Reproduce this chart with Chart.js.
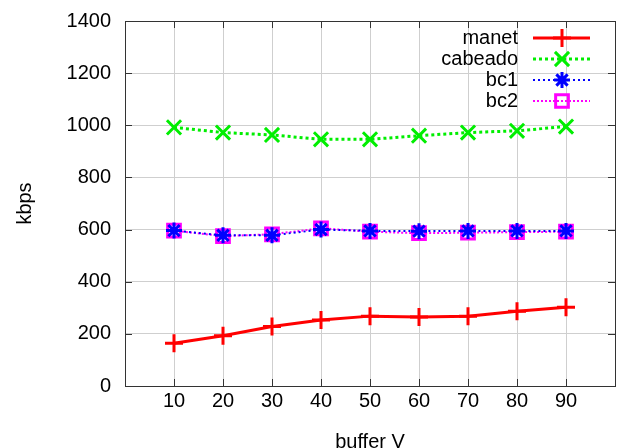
<!DOCTYPE html>
<html>
<head>
<meta charset="utf-8">
<script src="https://cdn.jsdelivr.net/npm/chart.js@4/dist/chart.umd.min.js"></script>
<style>
  html, body { margin: 0; padding: 0; background: #fff; }
  #wrap { width: 619px; height: 448px; }
</style>
</head>
<body>
<div id="wrap"><canvas id="chart" width="619" height="448"></canvas></div>
<script>
const bufferV = [10, 20, 30, 40, 50, 60, 70, 80, 90];
const manet   = [164, 193, 228, 253, 268, 265, 268, 287, 302];
const cabeado = [992, 972, 963, 946, 946, 960, 972, 979, 995];
const bc1     = [596, 578, 578, 600, 595, 594, 595, 595, 595];
const bc2     = [596, 575, 582, 605, 592, 586, 588, 590, 592];
const yTicks  = [0, 200, 400, 600, 800, 1000, 1200, 1400];

const FONT = "'Liberation Sans', Arial, Helvetica, sans-serif";

function pts(vals) {
    return vals.map((v, i) => ({ x: bufferV[i], y: v }));
}

// frame round the plot plus small inward ticks (gnuplot style)
const framePlugin = {
    id: "frame",
    beforeDatasetsDraw(chart) {
        const { ctx, chartArea: a, scales } = chart;
        ctx.save();
        ctx.strokeStyle = "#333";
        ctx.lineWidth = 1;
        ctx.beginPath();
        yTicks.forEach(v => {
            const y = Math.round(scales.y.getPixelForValue(v)) + 0.5;
            ctx.moveTo(a.left, y); ctx.lineTo(a.left + 7, y);
            ctx.moveTo(a.right, y); ctx.lineTo(a.right - 7, y);
        });
        bufferV.forEach(v => {
            const x = Math.round(scales.x.getPixelForValue(v)) + 0.5;
            ctx.moveTo(x, a.bottom); ctx.lineTo(x, a.bottom - 7);
            ctx.moveTo(x, a.top); ctx.lineTo(x, a.top + 7);
        });
        ctx.stroke();
        ctx.strokeRect(Math.round(a.left) + 0.5, Math.round(a.top) + 0.5,
            Math.round(a.right - a.left), Math.round(a.bottom - a.top));
        ctx.restore();
    }
};

// legend inside top right: label, then line sample with marker
const keyPlugin = {
    id: "key",
    afterDraw(chart) {
        const { ctx, chartArea: a } = chart;
        ctx.save();
        ctx.font = "20px " + FONT;
        ctx.textAlign = "right";
        ctx.textBaseline = "middle";
        chart.data.datasets.forEach((ds, i) => {
            const y = a.top + 17 + i * 21;
            ctx.fillStyle = "#000";
            ctx.fillText(ds.label, a.right - 97, y);
            ctx.strokeStyle = ds.borderColor;
            ctx.lineWidth = ds.borderWidth;
            ctx.setLineDash(ds.borderDash || []);
            ctx.beginPath();
            ctx.moveTo(a.right - 82, y);
            ctx.lineTo(a.right - 25, y);
            ctx.stroke();
            ctx.setLineDash([]);
            ctx.lineWidth = ds.pointBorderWidth;
            ctx.strokeStyle = ds.pointBorderColor;
            ctx.fillStyle = "rgba(0,0,0,0)";
            Chart.helpers.drawPoint(ctx, {
                pointStyle: ds.pointStyle, radius: ds.pointRadius,
                rotation: 0, borderWidth: ds.pointBorderWidth
            }, a.right - 53, y);
        });
        ctx.restore();
    }
};

new Chart(document.getElementById("chart"), {
    type: "line",
    data: {
        datasets: [
            { label: "manet", data: pts(manet), borderColor: "#ff0000", borderWidth: 3,
              pointStyle: "cross", pointRadius: 9, pointBorderWidth: 3,
              pointBorderColor: "#ff0000", pointBackgroundColor: "transparent" },
            { label: "cabeado", data: pts(cabeado), borderColor: "#00ee00", borderWidth: 3,
              borderDash: [3, 3], pointStyle: "crossRot", pointRadius: 10, pointBorderWidth: 3,
              pointBorderColor: "#00ee00", pointBackgroundColor: "transparent" },
            { label: "bc1", data: pts(bc1), borderColor: "#0000ff", borderWidth: 2,
              borderDash: [2, 3], pointStyle: "star", pointRadius: 8, pointBorderWidth: 3,
              pointBorderColor: "#0000ff", pointBackgroundColor: "transparent" },
            { label: "bc2", data: pts(bc2), borderColor: "#ff00ff", borderWidth: 2,
              borderDash: [2, 2], pointStyle: "rect", pointRadius: 9, pointBorderWidth: 3,
              pointBorderColor: "#ff00ff", pointBackgroundColor: "transparent" }
        ]
    },
    options: {
        responsive: false,
        animation: false,
        layout: { autoPadding: false, padding: { top: 21, right: 4, left: 0, bottom: 0 } },
        plugins: { legend: { display: false }, tooltip: { enabled: false } },
        scales: {
            x: {
                type: "linear", min: 0, max: 100,
                afterFit: s => { s.height = 62; s.paddingLeft = 0; s.paddingRight = 0; },
                border: { display: false },
                grid: {
                    drawTicks: false,
                    color: c => (c.tick.value === 0 || c.tick.value === 100) ? "transparent" : "#cfcfcf"
                },
                ticks: {
                    stepSize: 10, padding: 3, color: "#000",
                    font: { family: FONT, size: 20 },
                    callback: v => (v === 0 || v === 100) ? "" : String(v)
                },
                title: { display: true, text: "buffer V", color: "#000",
                         font: { family: FONT, size: 20 }, padding: { top: 0, bottom: -6 } }
            },
            y: {
                min: 0, max: 1400,
                afterFit: s => { s.width = 125; s.paddingTop = 0; s.paddingBottom = 0; },
                border: { display: false },
                grid: {
                    drawTicks: false,
                    color: c => (c.tick.value === 0 || c.tick.value === 1400) ? "transparent" : "#cfcfcf"
                },
                ticks: {
                    stepSize: 200, padding: 14, color: "#000",
                    font: { family: FONT, size: 20 },
                    callback: v => String(v)
                },
                title: { display: true, text: "kbps", color: "#000",
                         font: { family: FONT, size: 20 }, padding: { top: 13, bottom: 0 } }
            }
        }
    },
    plugins: [framePlugin, keyPlugin]
});
</script>
</body>
</html>
